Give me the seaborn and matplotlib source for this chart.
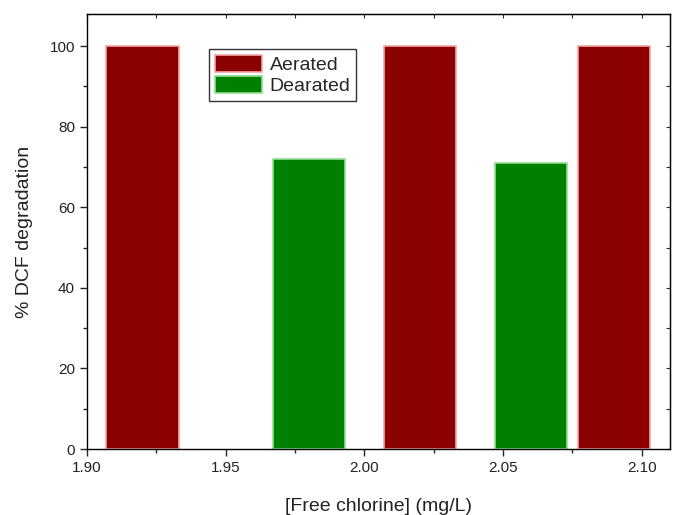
import pandas as pd
import matplotlib
matplotlib.use("Agg")
import matplotlib.pyplot as plt
import seaborn as sns
from matplotlib.ticker import MultipleLocator

# Data
aerated_x = [1.92, 2.02, 2.09]
aerated_y = [100, 100, 100]
dearated_x = [1.98, 2.06]
dearated_y = [72, 71]

df = pd.DataFrame({
    "chlorine": aerated_x + dearated_x,
    "degradation": aerated_y + dearated_y,
    "condition": ["Aerated"] * len(aerated_x) + ["Dearated"] * len(dearated_x),
})

sns.set_style("ticks")
plt.rcParams['font.family'] = ['Liberation Sans', 'DejaVu Sans']

fig = plt.figure(figsize=(6.73, 5.15), dpi=100)
ax = fig.add_axes([0.129, 0.128, 0.866, 0.845])

palette = {"Aerated": "#8b0000", "Dearated": "#008000"}
sns.barplot(data=df, x="chlorine", y="degradation", hue="condition",
            native_scale=True, dodge=False, width=0.87, palette=palette,
            saturation=1, ax=ax)

# light edge around the bars
for patch in ax.patches:
    fc = matplotlib.colors.to_hex(patch.get_facecolor())
    patch.set_edgecolor("#f4a6a6" if fc == "#8b0000" else "#8fe08f")
    patch.set_linewidth(1.2)

ax.set_xlim(1.90, 2.11)
ax.set_ylim(0, 108)
ax.xaxis.set_major_locator(MultipleLocator(0.05))
ax.xaxis.set_minor_locator(MultipleLocator(0.025))
ax.yaxis.set_major_locator(MultipleLocator(20))
ax.yaxis.set_minor_locator(MultipleLocator(10))
ax.xaxis.set_major_formatter(matplotlib.ticker.FormatStrFormatter('%.2f'))
ax.tick_params(which='major', direction='out', length=5, width=1,
               labelsize=11, labelcolor='#222222')
ax.tick_params(which='minor', direction='out', length=3, width=1)

top = ax.secondary_xaxis('top')
top.xaxis.set_major_locator(MultipleLocator(0.025))
top.tick_params(direction='in', length=3, labeltop=False)
right = ax.secondary_yaxis('right')
right.yaxis.set_major_locator(MultipleLocator(10))
right.tick_params(direction='in', length=3, labelright=False)

for sp in ax.spines.values():
    sp.set_visible(True)
    sp.set_linewidth(1)
    sp.set_color("black")

ax.set_xlabel("[Free chlorine] (mg/L)", fontsize=14, labelpad=17, color='#222222')
ax.set_ylabel("% DCF degradation", fontsize=14, labelpad=12, color='#222222')

leg = ax.legend(loc='upper left', bbox_to_anchor=(0.21, 0.92), fontsize=14,
                frameon=True, fancybox=False, edgecolor='black',
                handlelength=2.4, handleheight=1.0, borderpad=0.3,
                labelspacing=0.1, handletextpad=0.4, borderaxespad=0)
leg.get_frame().set_linewidth(1)

fig.savefig("out.png", dpi=100)
